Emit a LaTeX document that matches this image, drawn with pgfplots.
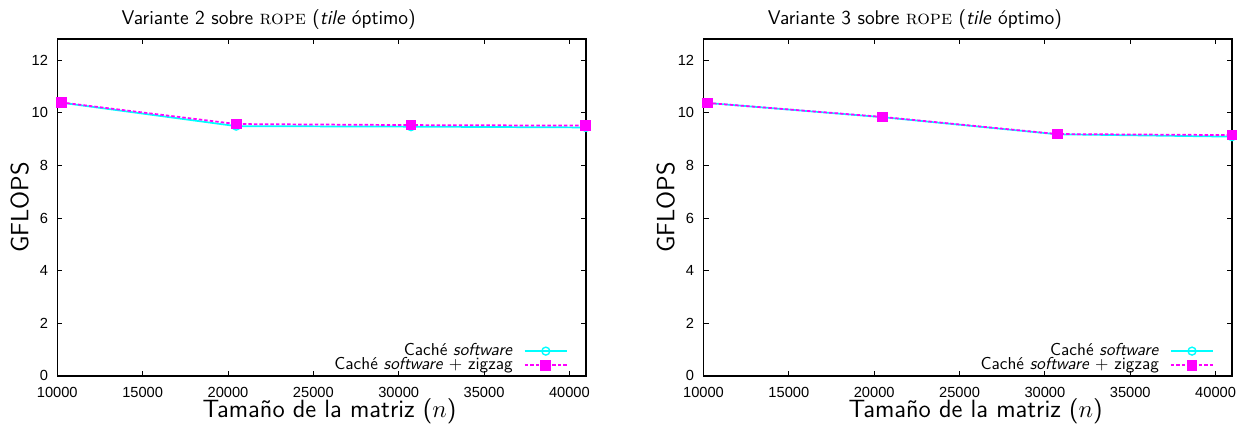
\documentclass[border=0pt]{standalone}
\usepackage{fontspec}
\usepackage{pgfplots}
\pgfplotsset{compat=1.18}
\newfontfamily\tickfont{Liberation Sans}

% GFLOPS per matrix size, cached software vs cached software + zigzag
\pgfplotstableread{
n      sw     zz
10240  10.38  10.39
20480  9.49   9.57
30720  9.47   9.53
40960  9.44   9.51
}\varianteDos
\pgfplotstableread{
n      sw     zz
10240  10.37  10.37
20480  9.83   9.84
30720  9.18   9.19
40960  9.09   9.15
}\varianteTres

\definecolor{swcyan}{RGB}{0,255,255}
\definecolor{zzmag}{RGB}{255,0,255}

\pgfplotsset{
  every axis title shift=0pt,
  ropeplot/.style={
    scale only axis,
    width=305.4bp, height=194.7bp,
    xmin=10000, xmax=40960,
    ymin=0, ymax=12.8,
    xtick={10000,15000,...,40000},
    ytick={0,2,...,12},
    scaled x ticks=false,
    /pgf/number format/1000 sep={},
    /pgf/number format/assume math mode=true,
    tick align=inside,
    major tick length=3bp,
    every tick/.style={black, line width=0.5bp},
    axis line style={line width=0.9bp},
    tick label style={font=\tickfont\fontsize{8.5}{10}\selectfont},
    yticklabel style={inner sep=0pt, xshift=-5.2bp},
    xticklabel style={inner sep=0pt, yshift=-6.2bp},
    clip mode=individual,
    title style={at={(axis description cs:0.40,1.0445)}, anchor=base,
      font=\sffamily\fontsize{11.5}{13}\selectfont},
    xlabel={Tamaño de la matriz ($n$)},
    ylabel={GFLOPS},
    xlabel style={at={(axis description cs:0.515,-0.1245)}, anchor=base,
      font=\sffamily\fontsize{14.5}{16}\selectfont},
    ylabel style={at={(axis description cs:-0.0549,0.5)}, anchor=base,
      rotate=0, font=\sffamily\fontsize{14.5}{16}\selectfont},
    legend plot pos=right,
    legend cell align=right,
    legend image code/.code={
      \draw[mark repeat=2, mark phase=2, #1]
        plot coordinates {(0bp,0bp) (12.2bp,0bp) (24.4bp,0bp)};
    },
    legend style={
      at={(axis description cs:0.9764,0.0)}, anchor=south east,
      draw=none, fill=none,
      font=\sffamily\fontsize{10}{11}\selectfont,
      row sep=0pt, column sep=6.4bp,
      nodes={inner sep=0pt, text height=6.6bp, text depth=1.5bp},
    },
  },
  swline/.style={color=swcyan, line width=1bp, mark=o,
    mark size=2.3bp, mark options={solid, line width=0.8bp}},
  zzline/.style={color=zzmag, line width=1bp,
    dash pattern=on 2bp off 1.2bp, mark=square*,
    mark size=2.6bp, mark options={solid}},
}

\begin{document}
\begin{tikzpicture}
\path[use as bounding box] (0,0) rectangle (720bp,249.6bp);

\begin{axis}[ropeplot, at={(33.1bp,32.36bp)}, anchor=south west,
  title={Variante 2 sobre {\rmfamily\scshape rope} (\textit{tile} óptimo)}]
  \addplot[swline] table[x=n, y=sw] {\varianteDos};
  \addlegendentry{Caché \textit{software}}
  \addplot[zzline] table[x=n, y=zz] {\varianteDos};
  \addlegendentry{Caché \textit{software} + zigzag}
\end{axis}

\begin{axis}[ropeplot, at={(406.5bp,32.36bp)}, anchor=south west,
  title={Variante 3 sobre {\rmfamily\scshape rope} (\textit{tile} óptimo)}]
  \addplot[swline] table[x=n, y=sw] {\varianteTres};
  \addlegendentry{Caché \textit{software}}
  \addplot[zzline] table[x=n, y=zz] {\varianteTres};
  \addlegendentry{Caché \textit{software} + zigzag}
\end{axis}
\end{tikzpicture}
\end{document}
